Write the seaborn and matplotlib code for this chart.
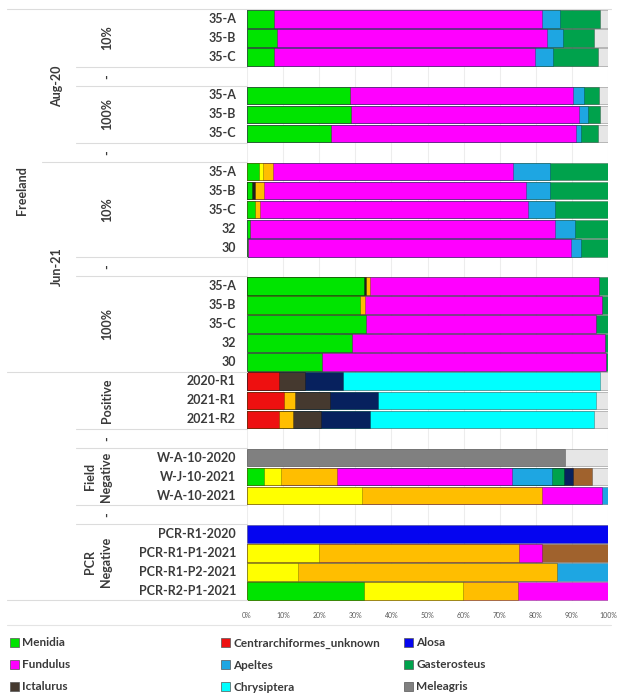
import numpy as np
import pandas as pd
import matplotlib
matplotlib.use("Agg")
import matplotlib.pyplot as plt
import matplotlib.transforms as mtransforms
from matplotlib.patches import Patch
from matplotlib.lines import Line2D
import seaborn as sns

sns.set_theme(style="white")
plt.rcParams["font.family"] = ["Lato", "DejaVu Sans"]

# Sample labels, top to bottom; "" marks a blank spacer row
samples = ["35-A", "35-B", "35-C", "", "35-A", "35-B", "35-C", "",
           "35-A", "35-B", "35-C", "32", "30", "",
           "35-A", "35-B", "35-C", "32", "30",
           "2020-R1", "2021-R1", "2021-R2", "",
           "W-A-10-2020", "W-J-10-2021", "W-A-10-2021", "",
           "PCR-R1-2020", "PCR-R1-P1-2021", "PCR-R1-P2-2021", "PCR-R2-P1-2021"]

# Relative read abundance (%) per taxon, one value per non-blank sample row
menidia = [7.6, 8.3, 7.6, 28.6, 28.8, 23.2, 3.2, 1.4, 2.3, 0.7, 0.3,
           32.3, 31.3, 33.0, 29.0, 20.7, 0, 0, 0, 0, 4.6, 0, 0, 0, 0, 32.4]
unassigned_dark = [0, 0, 0, 0, 0, 0, 0, 0.9, 0, 0, 0,
                   0.7, 0, 0, 0, 0, 0, 0, 0, 0, 0, 0, 0, 0, 0, 0]
centrarchiformes = [0, 0, 0, 0, 0, 0, 0, 0, 0, 0, 0,
                    0, 0, 0, 0, 0, 8.8, 10.3, 8.8, 0, 0, 0, 0, 0, 0, 0]
unassigned_yellow = [0, 0, 0, 0, 0, 0, 1.2, 0, 0, 0, 0,
                     0, 0, 0, 0, 0, 0, 0, 0, 0, 4.8, 31.8, 0, 20.0, 14.0, 27.5]
unassigned_orange = [0, 0, 0, 0, 0, 0, 2.7, 2.5, 1.4, 0, 0,
                     1.1, 1.4, 0, 0, 0, 0, 2.9, 4.0, 0, 15.5, 49.8, 0, 55.3, 71.9, 15.2]
ictalurus = [0, 0, 0, 0, 0, 0, 0, 0, 0, 0, 0,
             0, 0, 0, 0, 0, 7.4, 9.7, 7.8, 0, 0, 0, 0, 0, 0, 0]
fundulus = [74.0, 74.7, 72.1, 61.7, 63.1, 67.8, 66.6, 72.4, 74.2, 84.6, 89.4,
            63.3, 65.5, 63.8, 70.1, 78.7, 0, 0, 0, 0, 48.4, 16.6, 0, 6.5, 0, 24.9]
apeltes = [5.2, 4.4, 5.1, 3.1, 2.5, 1.6, 10.2, 6.8, 7.4, 5.5, 2.7,
           0, 0, 0, 0, 0, 0, 0, 0, 0, 11.1, 1.8, 0, 0, 14.1, 0]
gasterosteus = [10.9, 8.7, 12.4, 4.1, 3.5, 4.6, 16.1, 16.0, 14.7, 9.2, 7.6,
                2.6, 1.8, 3.2, 0.9, 0.6, 0, 0, 0, 0, 3.4, 0, 0, 0, 0, 0]
unassigned_navy = [0, 0, 0, 0, 0, 0, 0, 0, 0, 0, 0,
                   0, 0, 0, 0, 0, 10.4, 13.4, 13.5, 0, 2.6, 0, 0, 0, 0, 0]
unassigned_brown = [0, 0, 0, 0, 0, 0, 0, 0, 0, 0, 0,
                    0, 0, 0, 0, 0, 0, 0, 0, 0, 5.3, 0, 0, 18.2, 0, 0]
chrysiptera = [0, 0, 0, 0, 0, 0, 0, 0, 0, 0, 0,
               0, 0, 0, 0, 0, 71.3, 60.5, 61.9, 0, 0, 0, 0, 0, 0, 0]
meleagris = [0, 0, 0, 0, 0, 0, 0, 0, 0, 0, 0,
             0, 0, 0, 0, 0, 0, 0, 0, 88.0, 0, 0, 0, 0, 0, 0]
alosa = [0, 0, 0, 0, 0, 0, 0, 0, 0, 0, 0,
         0, 0, 0, 0, 0, 0, 0, 0, 0, 0, 0, 100.0, 0, 0, 0]
unassigned_grey = [2.3, 3.9, 2.8, 2.5, 2.1, 2.8, 0, 0, 0, 0, 0,
                   0, 0, 0, 0, 0, 2.1, 3.2, 4.0, 12.0, 4.3, 0, 0, 0, 0, 0]

# Stacking order (left to right) with colours and legend names
series = [
    ("Menidia", menidia, "#00E400"),
    (None, unassigned_dark, "#1E1E1E"),
    ("Centrarchiformes_unknown", centrarchiformes, "#EE1010"),
    (None, unassigned_yellow, "#FFFF00"),
    (None, unassigned_orange, "#FFBE00"),
    ("Ictalurus", ictalurus, "#45392F"),
    ("Fundulus", fundulus, "#FF00FF"),
    ("Apeltes", apeltes, "#1EA6E2"),
    ("Gasterosteus", gasterosteus, "#00A24C"),
    (None, unassigned_navy, "#07215E"),
    (None, unassigned_brown, "#A0622D"),
    ("Chrysiptera", chrysiptera, "#00FFFF"),
    ("Meleagris", meleagris, "#808080"),
    ("Alosa", alosa, "#0505F0"),
    (None, unassigned_grey, "#E6E6E6"),
]

# Hierarchical groups: (label, first row, last row)
level1 = [("Freeland", 0, 18)]
level2 = [("Aug-20", 0, 7), ("Jun-21", 8, 18)]
level3 = [("10%", 0, 2), ("-", 3, 3), ("100%", 4, 6), ("-", 7, 7),
          ("10%", 8, 12), ("-", 13, 13), ("100%", 14, 18),
          ("Positive", 19, 21), ("-", 22, 22),
          ("Field\nNegative", 23, 25), ("-", 26, 26),
          ("PCR\nNegative", 27, 30)]

W, H = 618, 698
fig = plt.figure(figsize=(W / 100, H / 100), dpi=100)
ax = fig.add_axes([247 / W, 1 - 600.5 / H, 361 / W, 591 / H])

rows = list(range(len(samples)))
data_rows = [i for i, s in enumerate(samples) if s]
vals = np.array([s[1] for s in series], dtype=float)
cum = np.cumsum(vals, axis=0)

# Stacked bars: draw cumulative totals from the widest down
for k in range(len(series) - 1, -1, -1):
    keep = vals[k] > 0
    df = pd.DataFrame({"row": np.array(data_rows)[keep], "cum": cum[k][keep]})
    if df.empty:
        continue
    sns.barplot(data=df, x="cum", y="row", orient="h", order=rows,
                color=series[k][2], saturation=1, width=0.92, errorbar=None,
                edgecolor=(0, 0, 0, 0.35), linewidth=0.5, ax=ax)

ax.set_xlim(0, 100)
ax.set_ylim(len(samples) - 0.5, -0.5)
ax.set_xlabel("")
ax.set_ylabel("")
ax.set_xticks(np.arange(0, 101, 10))
ax.set_xticklabels([f"{v}%" for v in range(0, 101, 10)], fontsize=5, color="#595959")
ax.tick_params(axis="x", length=0, pad=8)
ax.tick_params(axis="y", length=0, labelleft=False)
ax.xaxis.grid(True, color="#ededed", lw=0.8)
ax.set_axisbelow(True)
for sp in ax.spines.values():
    sp.set_visible(False)

trans = mtransforms.blended_transform_factory(fig.transFigure, ax.transData)
txt = dict(color="#3A3A3A", fontsize=9, fontweight="bold", transform=trans)

for i, s in enumerate(samples):
    if s:
        ax.text(236 / W, i, s, ha="right", va="center", clip_on=False, **txt)

for lab, a, b in level3:
    xc = 98 if "\n" in lab else 107
    ax.text(xc / W, (a + b) / 2, lab, ha="center", va="center", rotation=90,
            multialignment="center", linespacing=1.35, clip_on=False, **txt)
for lab, a, b in level2:
    ax.text(57 / W, (a + b) / 2, lab, ha="center", va="center", rotation=90,
            clip_on=False, **txt)
for lab, a, b in level1:
    ax.text(22 / W, (a + b) / 2, lab, ha="center", va="center", rotation=90,
            clip_on=False, **txt)

# Faint group separators of the category axis
sep_col = "#DCDCDC"
def hline(ybound, x0):
    fig.add_artist(Line2D([x0 / W, 247 / W], [ybound, ybound], transform=trans,
                          color=sep_col, lw=0.8, clip_on=False))

for yb in [2.5, 3.5, 6.5, 12.5, 13.5, 21.5, 22.5, 25.5, 26.5]:
    hline(yb, 76)
hline(7.5, 42)
for yb in [18.5, 30.5]:
    hline(yb, 7)
fig.add_artist(Line2D([7 / W, 611 / W], [-0.5, -0.5], transform=trans,
                      color=sep_col, lw=0.8, clip_on=False))
fig.add_artist(Line2D([7 / W, 611 / W], [1 - 625 / H, 1 - 625 / H],
                      transform=fig.transFigure, color="#E4E4E4", lw=0.8))

# Legend laid out in three equal-width columns
named = {s[0]: s[2] for s in series if s[0]}
columns = [["Menidia", "Fundulus", "Ictalurus"],
           ["Centrarchiformes_unknown", "Apeltes", "Chrysiptera"],
           ["Alosa", "Gasterosteus", "Meleagris"]]
col_x = [10, 221, 404]
for names, x0 in zip(columns, col_x):
    handles = [Patch(facecolor=named[n], edgecolor="#555555", linewidth=0.5, label=n)
               for n in names]
    fig.legend(handles=handles, loc="upper left", bbox_to_anchor=(x0 / W, 1 - 637.5 / H),
               frameon=False, prop={"weight": "bold", "size": 8.5},
               labelcolor="#3A3A3A", handlelength=0.75, handleheight=0.75,
               handletextpad=0.3, labelspacing=0.93, borderpad=0, borderaxespad=0)

fig.savefig("out.png", dpi=100, facecolor="white")
